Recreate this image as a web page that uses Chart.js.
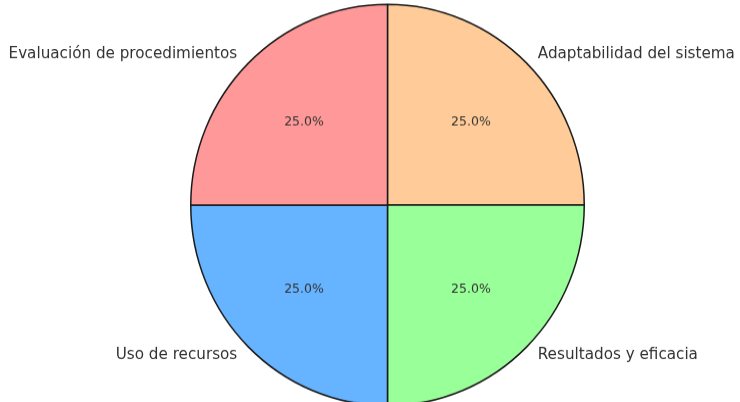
<!DOCTYPE html>
<html>
<head>
<meta charset="utf-8">
<script src="https://cdn.jsdelivr.net/npm/chart.js@4/dist/chart.umd.min.js"></script>
<style>
  html, body { margin: 0; padding: 0; background: #ffffff; }
  #wrap { position: relative; width: 740px; height: 402px; overflow: hidden; }
  #box { position: absolute; left: 0; top: 0; width: 740px; height: 420px;
         transform: scaleY(1.02); transform-origin: 0 0; }
</style>
</head>
<body>
<div id="wrap"><div id="box"><canvas id="c"></canvas></div></div>
<script>
// Slices listed clockwise from the top
const categories = [
  'Adaptabilidad del sistema',
  'Resultados y eficacia',
  'Uso de recursos',
  'Evaluación de procedimientos'
];
const shares = [25, 25, 25, 25];
const sliceColors = ['#ffcc99', '#99ff99', '#66b3ff', '#ff9999'];

// Category names outside the pie, percentages inside each slice
const sliceLabels = {
  id: 'sliceLabels',
  afterDatasetsDraw(chart) {
    const { ctx } = chart;
    const meta = chart.getDatasetMeta(0);
    const data = chart.data.datasets[0].data;
    const total = data.reduce((a, b) => a + b, 0);
    ctx.save();
    meta.data.forEach((arc, i) => {
      const p = arc.getProps(['x', 'y', 'startAngle', 'endAngle', 'outerRadius'], true);
      const mid = (p.startAngle + p.endAngle) / 2;
      const c = Math.cos(mid), s = Math.sin(mid);
      // outer label
      ctx.font = '15.2px "DejaVu Sans"';
      ctx.fillStyle = '#333333';
      ctx.textBaseline = 'middle';
      ctx.textAlign = c >= 0 ? 'left' : 'right';
      ctx.fillText(chart.data.labels[i], p.x + 1.08 * p.outerRadius * c, p.y + 1.06 * p.outerRadius * s);
      // percentage
      ctx.font = '12.5px "DejaVu Sans"';
      ctx.textAlign = 'center';
      ctx.fillText((data[i] / total * 100).toFixed(1) + '%', p.x + 0.6 * p.outerRadius * c, p.y + 0.59 * p.outerRadius * s + 1);
    });
    ctx.restore();
  }
};

new Chart(document.getElementById('c'), {
  type: 'pie',
  data: {
    labels: categories,
    datasets: [{
      data: shares,
      backgroundColor: sliceColors,
      borderColor: '#1a1a1a',
      borderWidth: 1.5
    }]
  },
  options: {
    responsive: true,
    maintainAspectRatio: false,
    animation: false,
    layout: { padding: { top: 3.5, bottom: 21.5, left: 190, right: 155 } },
    plugins: {
      legend: { display: false },
      tooltip: { enabled: false }
    }
  },
  plugins: [sliceLabels]
});
</script>
</body>
</html>
